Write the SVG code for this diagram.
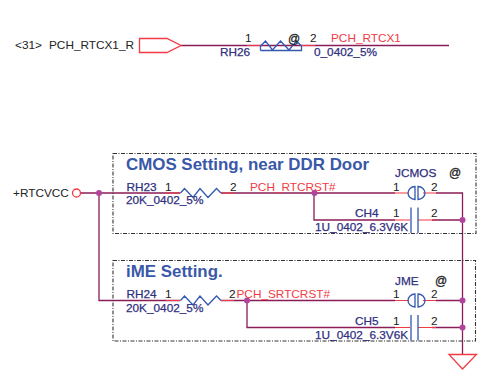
<svg xmlns="http://www.w3.org/2000/svg" width="484" height="374" viewBox="0 0 484 374">
<style>
text{font-family:"Liberation Sans",Arial,sans-serif;font-size:11.8px;fill:#222}
.ref{fill:#2f2f80;stroke:#2f2f80;stroke-width:.25}
.net{fill:#f23a45}
.title{font-size:16.9px;font-weight:bold;fill:#3a58a8}
.at{font-size:12px;stroke:#222;stroke-width:.3}
.wire{fill:none;stroke:#8a1c58;stroke-width:1.3}
.pin{fill:none;stroke:#f23a45;stroke-width:1.2}
.sym{fill:none;stroke:#3358ae;stroke-width:1.3}
.symr{fill:none;stroke:#f23a45;stroke-width:1.3}
.box{fill:none;stroke:#333;stroke-width:1.1;stroke-dasharray:4 1.5 1 1.5}
.dot{fill:#b0449c}
</style>
<g id="connectors">
<path class="wire" d="M181 45.500H449"/>
<path class="wire" d="M81 193H180M221 193H395M436 193H462.500V355"/>
<path class="wire" d="M99 193V300.500H180M221 300.500H395M436 300.500H462.500"/>
<path class="wire" d="M314 193V220H395M432 220H462.500"/>
<path class="wire" d="M247 300.500V327.500H395M432 327.500H462.500"/>
</g>
<g id="port-pch-rtcx1-r">
<text x="15" y="49">&lt;31&gt;</text><text x="49" y="49">PCH_RTCX1_R</text>
<path class="symr" d="M139.500 38.500H167L181 45.500L167 52.500H139.500Z"/>
</g>
<g id="rh26">
<path class="pin" d="M247 45.500H260.500M301.500 45.500H315"/>
<path class="sym" d="M260.500 50.500V46L265.500 41L272.500 50L280.500 41L289 50L296.500 41L301.500 46V50.500H260.500"/>
<text x="245" y="42">1</text><text x="310" y="42">2</text>
<text x="288" y="43" class="at">@</text>
<text x="220" y="56" class="ref">RH26</text>
<text x="314" y="56" class="ref">0_0402_5%</text>
<text x="331" y="42" class="net">PCH_RTCX1</text>
</g>
<g id="rtcvcc">
<text x="13" y="196.500">+RTCVCC</text>
<circle class="symr" cx="76.500" cy="193" r="4"/>
<circle class="dot" cx="99" cy="193" r="3"/>
</g>
<g id="cmos-box">
<rect class="box" x="113" y="153.500" width="363" height="80"/>
<text x="126" y="170" class="title">CMOS Setting, near DDR Door</text>
</g>
<g id="rh23">
<path class="pin" d="M166 193H180.500M221 193H234"/>
<path class="sym" d="M180.500 193L184.500 188.500L193 197.500L200 188.500L208 197.500L216.500 188.500L221 193"/>
<text x="126.500" y="191" class="ref">RH23</text><text x="165" y="191">1</text><text x="230" y="191">2</text>
<text x="126" y="204" class="ref">20K_0402_5%</text>
<text x="250" y="191" class="net">PCH_RTCRST#</text>
<circle class="dot" cx="314.500" cy="193" r="3"/>
</g>
<g id="jcmos">
<path class="pin" d="M395 193H409M423 193H436"/>
<path class="sym" d="M415 186.500A7 6.500 0 0 0 415 199.500ZM418 186.500A7 6.500 0 0 1 418 199.500Z"/>
<text x="395" y="177" class="ref">JCMOS</text><text x="449" y="177" class="at">@</text>
<text x="393" y="191">1</text><text x="431" y="191">2</text>
</g>
<g id="ch4">
<path class="pin" d="M395 220H410M418 220H436"/>
<path class="sym" d="M411 207.500V233M418 207.500V233"/>
<text x="355" y="217" class="ref">CH4</text><text x="393" y="217">1</text><text x="431" y="217">2</text>
<text x="315" y="231" class="ref">1U_0402_6.3V6K</text>
<circle class="dot" cx="462.500" cy="220" r="3"/>
</g>
<g id="ime-box">
<rect class="box" x="113" y="260.500" width="362.500" height="80.500"/>
<text x="126" y="277" class="title">iME Setting.</text>
</g>
<g id="rh24">
<path class="pin" d="M166 300.500H180.500M221 300.500H234"/>
<path class="sym" d="M180.500 300.500L184.500 296L193 305L200 296L208 305L216.500 296L221 300.500"/>
<text x="126.500" y="298" class="ref">RH24</text><text x="165" y="298">1</text><text x="229" y="298">2</text>
<text x="126" y="312" class="ref">20K_0402_5%</text>
<text x="236.500" y="298" class="net">PCH_SRTCRST#</text>
<circle class="dot" cx="247" cy="300.500" r="3"/>
</g>
<g id="jme">
<path class="pin" d="M395 300.500H409M423 300.500H436"/>
<path class="sym" d="M415 294A7 6.500 0 0 0 415 307ZM418 294A7 6.500 0 0 1 418 307Z"/>
<text x="395" y="285" class="ref">JME</text><text x="435" y="285" class="at">@</text>
<text x="393" y="298">1</text><text x="431" y="298">2</text>
<circle class="dot" cx="462.500" cy="300.500" r="3"/>
</g>
<g id="ch5">
<path class="pin" d="M395 327.500H410M418 327.500H436"/>
<path class="sym" d="M411 315V340.500M418 315V340.500"/>
<text x="355" y="325" class="ref">CH5</text><text x="393" y="325">1</text><text x="431" y="325">2</text>
<text x="315" y="338.500" class="ref">1U_0402_6.3V6K</text>
<circle class="dot" cx="462.500" cy="327.500" r="3"/>
</g>
<g id="gnd">
<path class="symr" d="M449 354.500H476.500L462.500 369Z"/>
</g>
</svg>
